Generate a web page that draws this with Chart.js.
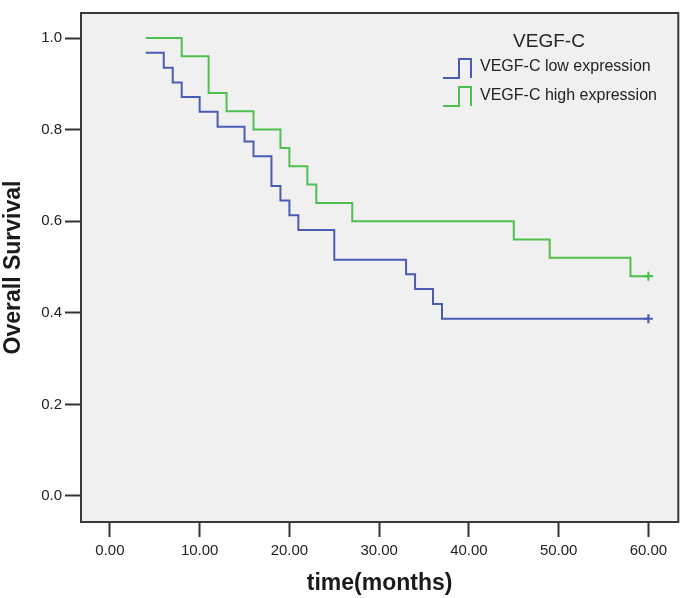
<!DOCTYPE html>
<html>
<head>
<meta charset="utf-8">
<script src="https://cdn.jsdelivr.net/npm/chart.js@4.4.1/dist/chart.umd.min.js"></script>
<style>
  html, body { margin: 0; padding: 0; background: #ffffff; }
  #wrap { width: 685px; height: 598px; position: relative; }
</style>
</head>
<body>
<div id="wrap"><canvas id="c" width="685" height="598"></canvas></div>
<script>
// ---- Data ----
const lowLabel = "VEGF-C low expression";
const highLabel = "VEGF-C high expression";
const legendTitle = "VEGF-C";

const lowTimes = [4, 6, 7, 8, 10, 12, 15, 16, 18, 19, 20, 21, 25, 33, 34, 36, 37, 60];
const lowSurv  = [0.968, 0.935, 0.903, 0.871, 0.839, 0.806, 0.774, 0.742, 0.677, 0.645, 0.613, 0.581, 0.516, 0.484, 0.452, 0.419, 0.387, 0.387];

const highTimes = [4, 8, 11, 13, 16, 19, 20, 22, 23, 27, 45, 49, 58, 60];
const highSurv  = [1.00, 0.96, 0.88, 0.84, 0.80, 0.76, 0.72, 0.68, 0.64, 0.60, 0.56, 0.52, 0.48, 0.48];

const xTicks = [0, 10, 20, 30, 40, 50, 60];
const yTicks = [0.0, 0.2, 0.4, 0.6, 0.8, 1.0];

// ---- Styling ----
const FONT = "'Liberation Sans', Arial, sans-serif";
const BLUE = "#4a5cb2";
const GREEN = "#4fbf4f";
const INK = "#222222";

function toPoints(ts, ss) { return ts.map((t, i) => ({ x: t, y: ss[i] })); }
function censorRadii(n) { return Array.from({ length: n }, (_, i) => (i === n - 1 ? 4.5 : 0)); }

const frameBg = {
  id: 'frameBg',
  beforeDraw(chart) {
    const { ctx, chartArea: a } = chart;
    ctx.save();
    ctx.fillStyle = '#f0f0f0';
    ctx.fillRect(a.left, a.top, a.right - a.left, a.bottom - a.top);
    ctx.restore();
  },
  afterDatasetsDraw(chart) {
    const { ctx, chartArea: a } = chart;
    ctx.save();
    ctx.strokeStyle = '#3a3a3a';
    ctx.lineWidth = 2;
    ctx.strokeRect(a.left, a.top, a.right - a.left, a.bottom - a.top);
    ctx.restore();
  }
};

const stepLegend = {
  id: 'stepLegend',
  afterDraw(chart) {
    const { ctx } = chart;
    ctx.save();
    ctx.fillStyle = INK;
    ctx.textBaseline = 'middle';
    ctx.font = "19px " + FONT;
    ctx.textAlign = 'center';
    ctx.fillText(legendTitle, 549, 42);
    ctx.textAlign = 'left';
    ctx.font = "16px " + FONT;
    const items = [
      { label: lowLabel, color: BLUE, yTop: 59, yBot: 78, ty: 67 },
      { label: highLabel, color: GREEN, yTop: 87, yBot: 106, ty: 96 }
    ];
    items.forEach(it => {
      ctx.strokeStyle = it.color;
      ctx.lineWidth = 2;
      ctx.beginPath();
      ctx.moveTo(443, it.yBot);
      ctx.lineTo(459, it.yBot);
      ctx.lineTo(459, it.yTop);
      ctx.lineTo(471, it.yTop);
      ctx.lineTo(471, it.yBot);
      ctx.stroke();
      ctx.fillStyle = INK;
      ctx.fillText(it.label, 480, it.ty);
    });
    ctx.restore();
  }
};

new Chart(document.getElementById('c'), {
  type: 'line',
  data: {
    datasets: [
      {
        label: lowLabel,
        data: toPoints(lowTimes, lowSurv),
        borderColor: BLUE,
        backgroundColor: BLUE,
        borderWidth: 2,
        stepped: 'before',
        fill: false,
        pointStyle: 'cross',
        pointRadius: censorRadii(lowTimes.length),
        pointHoverRadius: 0,
        pointBorderWidth: 2.2,
        pointBorderColor: BLUE
      },
      {
        label: highLabel,
        data: toPoints(highTimes, highSurv),
        borderColor: GREEN,
        backgroundColor: GREEN,
        borderWidth: 2,
        stepped: 'before',
        fill: false,
        pointStyle: 'cross',
        pointRadius: censorRadii(highTimes.length),
        pointHoverRadius: 0,
        pointBorderWidth: 2.2,
        pointBorderColor: GREEN
      }
    ]
  },
  options: {
    responsive: false,
    animation: false,
    events: [],
    layout: { padding: { top: 13, right: 4, left: 0, bottom: 0 } },
    plugins: {
      legend: { display: false },
      tooltip: { enabled: false }
    },
    scales: {
      x: {
        type: 'linear',
        min: -3.22,
        max: 63.33,
        afterBuildTicks(scale) { scale.ticks = xTicks.map(v => ({ value: v })); },
        afterFit(scale) { scale.height = 76; },
        border: { display: false },
        grid: {
          drawOnChartArea: false,
          drawTicks: true,
          tickLength: 15,
          tickWidth: 2,
          tickColor: '#333333'
        },
        ticks: {
          autoSkip: false,
          maxRotation: 0,
          padding: 5,
          color: INK,
          font: { family: FONT, size: 15 },
          callback: v => Number(v).toFixed(2)
        },
        title: {
          display: true,
          text: 'time(months)',
          color: '#1a1a1a',
          font: { family: FONT, size: 23, weight: 'bold' },
          padding: { top: 0, bottom: 1 }
        }
      },
      y: {
        type: 'linear',
        min: -0.0568,
        max: 1.0546,
        afterBuildTicks(scale) { scale.ticks = yTicks.map(v => ({ value: v })); },
        afterFit(scale) { scale.width = 81; },
        border: { display: false },
        grid: {
          drawOnChartArea: false,
          drawTicks: true,
          tickLength: 16,
          tickWidth: 2,
          tickColor: '#333333'
        },
        ticks: {
          autoSkip: false,
          padding: 3,
          color: INK,
          font: { family: FONT, size: 15 },
          callback: v => Number(v).toFixed(1)
        },
        title: {
          display: true,
          text: 'Overall Survival',
          color: '#1a1a1a',
          font: { family: FONT, size: 23, weight: 'bold' },
          padding: { top: 0, bottom: 0 }
        }
      }
    }
  },
  plugins: [frameBg, stepLegend]
});
</script>
</body>
</html>
